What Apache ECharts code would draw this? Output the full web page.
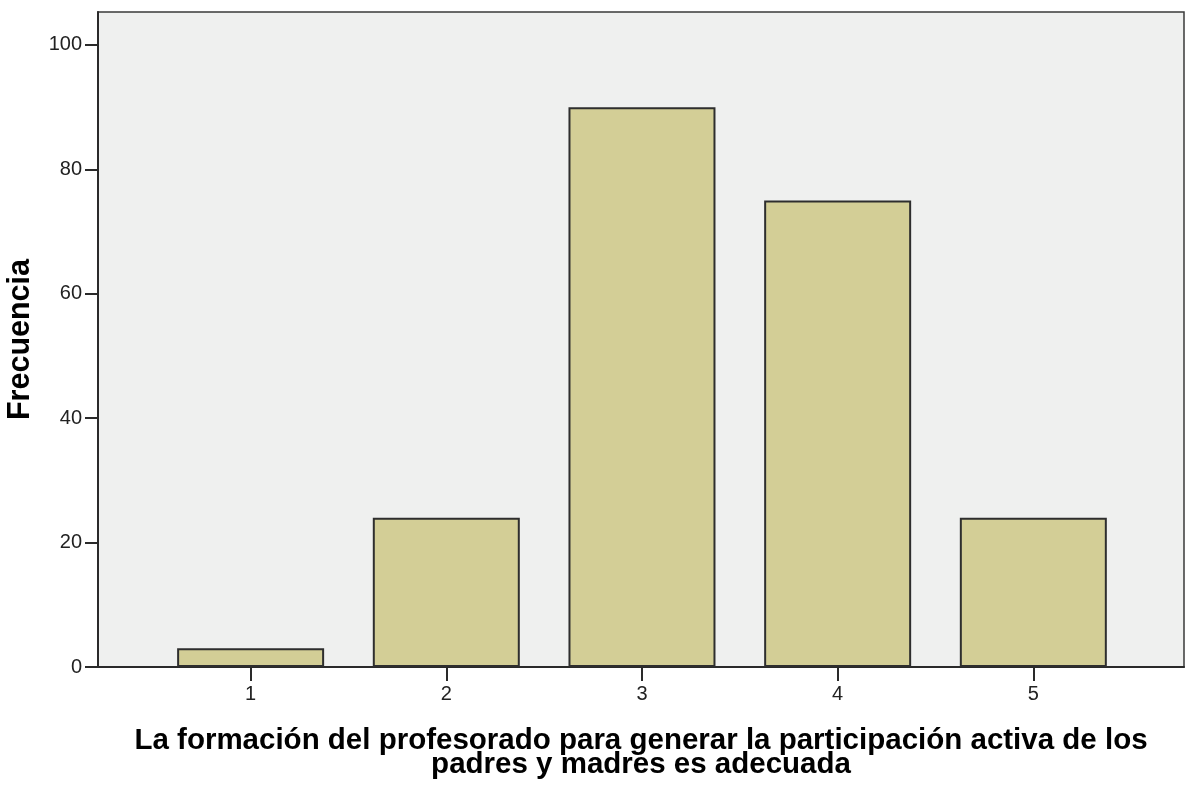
<!DOCTYPE html>
<html>
<head>
<meta charset="utf-8">
<script src="https://cdn.jsdelivr.net/npm/echarts@6/dist/echarts.min.js"></script>
<style>
html,body{margin:0;padding:0;background:#fff;}
#chart{width:1185px;height:785px;}
</style>
</head>
<body>
<div id="chart"></div>
<script>
const categories = [1, 2, 3, 4, 5];
const frequencies = [3, 24, 90, 75, 24];
const yTickValues = [0, 20, 40, 60, 80, 100];
const xTitle = 'La formación del profesorado para generar la participación activa de los\npadres y madres es adecuada';
const yTitle = 'Frecuencia';

const chart = echarts.init(document.getElementById('chart'), null, {renderer: 'canvas'});
const font = '"Liberation Sans", Arial, sans-serif';
chart.setOption({
  animation: false,
  backgroundColor: '#ffffff',
  grid: {
    left: 98, right: 1, top: 12, bottom: 118,
    outerBoundsMode: 'none',
    containLabel: false,
    show: true, backgroundColor: '#eff0ef', borderColor: '#3a3a3a', borderWidth: 1.5
  },
  xAxis: {
    type: 'value',
    min: 0.22, max: 5.77,
    splitLine: {show: false},
    axisLine: {show: true, onZero: false, lineStyle: {color: '#2a2a2a', width: 2}},
    axisTick: {show: true, customValues: categories, length: 14, lineStyle: {color: '#2a2a2a', width: 2}},
    axisLabel: {customValues: categories, margin: 17, fontSize: 20, color: '#222', fontFamily: font},
    name: xTitle,
    nameLocation: 'middle',
    nameGap: 62,
    nameTextStyle: {fontSize: 29.5, fontWeight: 'bold', color: '#000', fontFamily: font, lineHeight: 24}
  },
  yAxis: {
    type: 'value',
    min: 0, max: 105.3,
    splitLine: {show: false},
    axisLine: {show: true, lineStyle: {color: '#2a2a2a', width: 2}},
    axisTick: {show: true, customValues: yTickValues, length: 13, lineStyle: {color: '#2a2a2a', width: 2}},
    axisLabel: {customValues: yTickValues, margin: 16, fontSize: 20, color: '#222', fontFamily: font},
    name: yTitle,
    nameLocation: 'middle',
    nameGap: 62,
    nameRotate: 90,
    nameTextStyle: {fontSize: 30.5, fontWeight: 'bold', color: '#000', fontFamily: font, lineHeight: 30}
  },
  series: [{
    type: 'bar',
    barWidth: 147,
    data: categories.map((c, i) => [c, frequencies[i]]),
    itemStyle: {color: '#d3ce96', borderColor: '#2e2e2e', borderWidth: 2}
  }]
});
</script>
</body>
</html>
